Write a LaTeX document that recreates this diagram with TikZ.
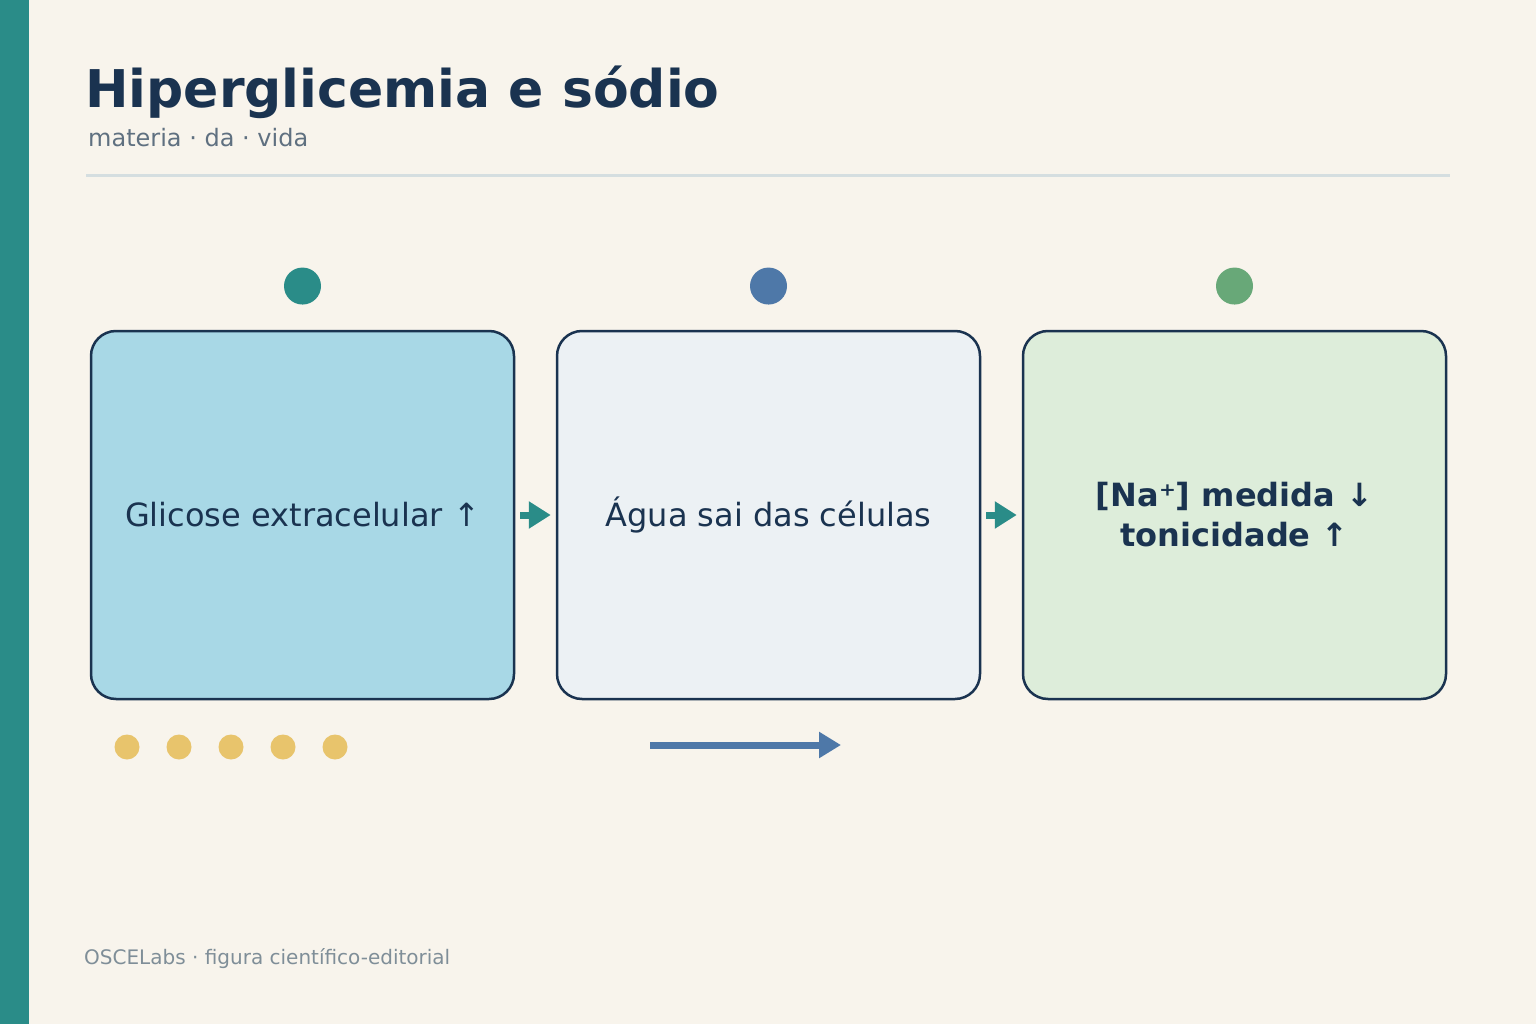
\documentclass[tikz,border=0pt]{standalone}
\usepackage{fontspec}
\setmainfont{DejaVu Sans}
\usepackage{tikz}
\usetikzlibrary{arrows.meta, positioning}

\definecolor{paper}{HTML}{F8F4EC}
\definecolor{teal}{HTML}{2A8C88}
\definecolor{navy}{HTML}{1A3350}
\definecolor{slate}{HTML}{5F7080}
\definecolor{rulegray}{HTML}{D5DEE0}
\definecolor{steel}{HTML}{4E78A8}
\definecolor{sage}{HTML}{68A878}
\definecolor{sun}{HTML}{E8C46C}
\definecolor{footgray}{HTML}{7F8E98}
\definecolor{fillone}{HTML}{A8D8E6}
\definecolor{filltwo}{HTML}{ECF1F4}
\definecolor{fillthree}{HTML}{DDEDDA}

\begin{document}
\begin{tikzpicture}[x=1pt, y=-1pt,
        stagebox/.style={draw=navy, line width=2.5pt, rounded corners=25pt,
            minimum width=423pt, minimum height=368pt, align=center,
            text=navy, inner sep=0pt, font=\fontsize{32}{40}\selectfont},
        stagedot/.style={circle, minimum size=37pt, inner sep=0pt},
        beadot/.style={circle, fill=sun, minimum size=25pt, inner sep=0pt},
        steparrow/.style={-{Triangle[length=22pt, width=26pt]}, teal,
            line width=7pt, shorten <=5pt, shorten >=5pt}]
        % page
        \useasboundingbox (0,0) rectangle (1536,1024);
        \fill[paper] (0,0) rectangle (1536,1024);
        \fill[teal] (0,0) rectangle (29,1024);

        % heading
        \node[anchor=base west, inner sep=0pt, text=navy] (title) at (85,108)
            {\fontsize{52}{60}\selectfont\bfseries Hiperglicemia e sódio};
        \node[anchor=base west, inner sep=0pt, text=slate] (subtitle) at (88,147)
            {\fontsize{24}{28}\selectfont materia · da · vida};
        \draw[rulegray, line width=3pt] (86,176) -- (1450,176);

        % stages
        \node[stagebox, fill=fillone] (glic) at (302.5,515)
            {Glicose extracelular ↑};
        \node[stagebox, fill=filltwo] (agua) at (768.5,515)
            {Água sai das células};
        \node[stagebox, fill=fillthree, font=\fontsize{32}{40}\selectfont\bfseries] (sodio) at (1234.5,515)
            {[Na⁺] medida ↓\\tonicidade ↑};

        % markers above the boxes
        \node[stagedot, fill=teal, above=25pt of glic] (dglic) {};
        \node[stagedot, fill=steel, above=25pt of agua] (dagua) {};
        \node[stagedot, fill=sage, above=25pt of sodio] (dsodio) {};

        % flow between stages
        \draw[steparrow] (glic.east) -- (agua.west);
        \draw[steparrow] (agua.east) -- (sodio.west);

        % beads below
        \foreach \i in {0,...,4}
            \node[beadot] (bead\i) at (127+52*\i,747) {};

        % direction arrow
        \coordinate (flowstart) at (650,745);
        \coordinate (flowend) at (841,745);
        \draw[-{Triangle[length=22pt, width=25pt]}, steel, line width=7pt]
            (flowstart) -- (flowend);

        % footer
        \node[anchor=base west, inner sep=0pt, text=footgray] (footer) at (84,964)
            {\fontsize{20}{24}\selectfont OSCELabs · figura científico-editorial};
    \end{tikzpicture}
\end{document}
